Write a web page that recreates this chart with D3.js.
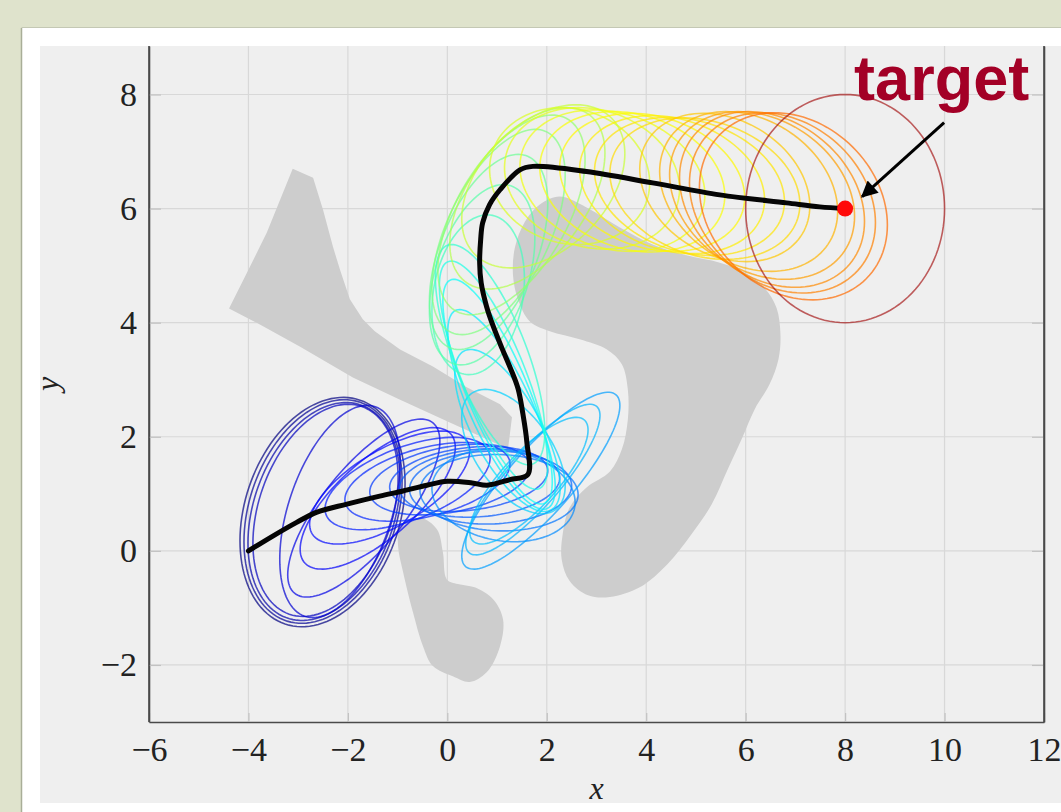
<!DOCTYPE html>
<html>
<head>
<meta charset="utf-8">
<script src="https://cdn.jsdelivr.net/npm/d3@7"></script>
<style>
  html, body { margin: 0; padding: 0; background: #dfe3cc; }
  svg { display: block; }
</style>
</head>
<body>
<svg id="chart" width="1061" height="812"></svg>
<script>
// ---- axes ----
const xDomain = [-6, 12];
const yDomain = [-3, 8.85];
const xTicks = [-6, -4, -2, 0, 2, 4, 6, 8, 10, 12];
const xTickLabels = ["\u22126", "\u22124", "\u22122", "0", "2", "4", "6", "8", "10", "12"];
const yTicks = [-2, 0, 2, 4, 6, 8];
const yTickLabels = ["\u22122", "0", "2", "4", "6", "8"];

// ---- goal ----
const target = [8, 6];

// ---- mean trajectory ----
const meanPath = [
  [-4, 0], [-3.51, 0.26], [-3.03, 0.5], [-2.62, 0.68], [-2.02, 0.82], [-1.36, 0.96],
  [-0.89, 1.05], [-0.41, 1.15], [0, 1.22], [0.5, 1.19], [0.8, 1.15], [1.26, 1.25],
  [1.62, 1.34], [1.6, 1.9], [1.52, 2.4], [1.42, 2.85], [1.27, 3.2], [1.1, 3.55],
  [0.93, 3.92], [0.79, 4.28], [0.68, 4.7], [0.65, 5.05], [0.67, 5.45], [0.71, 5.75],
  [0.85, 6.07], [1.06, 6.33], [1.46, 6.68], [1.72, 6.74], [2.8, 6.65], [4.13, 6.45],
  [5.48, 6.24], [6.82, 6.1], [7.49, 6.03], [8, 6]
];

// ---- obstacles ----
const obstacleWedge = [
  [-3.11, 6.70], [-2.70, 6.54], [-2.50, 5.98], [-2.30, 5.33], [-2.16, 4.93], [-1.96, 4.41],
  [-1.70, 4.06], [-1.46, 3.85], [-0.95, 3.53], [-0.29, 3.23], [0.39, 2.87], [1.06, 2.57],
  [1.30, 2.34], [1.22, 1.78], [1.06, 1.85], [0.05, 2.25], [-0.95, 2.65], [-1.90, 3.04],
  [-2.96, 3.58], [-3.77, 3.97], [-4.39, 4.25], [-3.97, 4.98], [-3.63, 5.58]
];
const obstacleBlob = [
  [2.26, 6.21], [2.80, 6.02], [3.47, 5.67], [4.13, 5.37], [4.81, 5.18], [5.48, 5.05],
  [5.98, 4.88], [6.38, 4.61], [6.62, 4.26], [6.70, 3.79], [6.66, 3.36], [6.48, 2.92],
  [6.18, 2.48], [5.92, 1.96], [5.64, 1.43], [5.32, 0.82], [4.91, 0.29], [4.43, -0.23],
  [3.87, -0.64], [3.27, -0.81], [2.83, -0.78], [2.46, -0.53], [2.30, -0.15], [2.32, 0.29],
  [2.46, 0.76], [2.80, 1.11], [3.27, 1.39], [3.51, 1.78], [3.63, 2.30], [3.63, 2.83],
  [3.51, 3.27], [3.21, 3.53], [2.66, 3.71], [2.06, 3.85], [1.66, 4.02], [1.42, 4.41],
  [1.32, 4.84], [1.36, 5.32], [1.56, 5.77], [1.86, 6.07]
];
const obstacleFoot = [
  [-0.95, 0.43], [-0.55, 0.58], [-0.21, 0.38], [-0.09, -0.02], [-0.01, -0.50], [0.21, -0.58],
  [0.55, -0.64], [0.92, -0.85], [1.12, -1.20], [1.06, -1.67], [0.79, -2.13], [0.45, -2.30],
  [0.11, -2.20], [-0.29, -2.02], [-0.49, -1.67], [-0.69, -1.08], [-0.89, -0.37], [-0.99, 0.08]
];

// ---- uncertainty ellipses along the trajectory: [cx, cy, sx, sy, rho] ----
const ellipses = [
  [-2.51, 0.68, 1.66, 2.01, 0.25],
  [-2.50, 0.69, 1.59, 1.96, 0.27],
  [-2.48, 0.69, 1.53, 1.91, 0.29],
  [-2.45, 0.71, 1.46, 1.86, 0.31],
  [-2.16, 0.69, 1.21, 1.86, 0.45],
  [-1.68, 0.75, 1.53, 1.56, 0.75],
  [-1.40, 0.92, 1.56, 1.24, 0.72],
  [-1.16, 1.11, 1.61, 0.99, 0.65],
  [-0.80, 1.18, 1.66, 0.81, 0.55],
  [-0.40, 1.21, 1.66, 0.69, 0.45],
  [0.05, 1.25, 1.61, 0.62, 0.35],
  [0.43, 1.26, 1.59, 0.57, 0.25],
  [0.65, 1.19, 1.61, 0.60, 0.15],
  [0.87, 1.11, 1.63, 0.64, 0.05],
  [1.04, 1.02, 1.59, 0.67, -0.05],
  [1.13, 0.97, 1.44, 0.81, -0.15],
  [1.88, 1.23, 1.59, 1.55, 0.85],
  [1.72, 1.25, 1.35, 1.32, 0.85],
  [1.64, 1.23, 1.19, 1.11, 0.80],
  [1.33, 1.74, 1.04, 1.09, -0.55],
  [1.21, 2.11, 1.06, 1.42, -0.70],
  [1.09, 2.48, 1.08, 1.75, -0.78],
  [1.01, 2.79, 1.10, 1.97, -0.80],
  [0.93, 3.08, 1.09, 2.00, -0.78],
  [0.86, 3.44, 1.10, 1.93, -0.70],
  [0.62, 4.49, 0.93, 1.40, 0.20],
  [0.70, 4.84, 1.06, 1.58, 0.40],
  [0.83, 5.24, 1.19, 1.71, 0.50],
  [1.03, 5.59, 1.34, 1.80, 0.55],
  [1.29, 5.89, 1.48, 1.75, 0.55],
  [1.61, 6.18, 1.56, 1.59, 0.50],
  [1.93, 6.39, 1.64, 1.43, 0.40],
  [2.46, 6.57, 1.61, 1.20, -0.10],
  [2.91, 6.53, 1.76, 1.24, -0.15],
  [3.32, 6.49, 1.86, 1.24, -0.20],
  [3.72, 6.47, 1.86, 1.23, -0.20],
  [4.12, 6.46, 1.86, 1.21, -0.22],
  [4.52, 6.42, 1.86, 1.21, -0.22],
  [4.87, 6.39, 1.91, 1.21, -0.22],
  [5.18, 6.35, 1.91, 1.24, -0.22],
  [5.58, 6.37, 1.71, 1.30, -0.25],
  [6.06, 6.30, 1.79, 1.40, -0.25],
  [6.33, 6.23, 1.86, 1.47, -0.25],
  [6.53, 6.16, 1.86, 1.54, -0.25],
  [6.74, 6.10, 1.87, 1.58, -0.22],
  [6.96, 6.04, 1.89, 1.64, -0.20],
  [8.00, 6.00, 2.00, 2.00, 0.00]
];
// normalised time of each ellipse (drives the colour)
const ellipseTime = [
  0.00, 0.02, 0.04, 0.06, 0.08,
  0.10, 0.12, 0.13, 0.15, 0.16, 0.18, 0.19, 0.21, 0.22, 0.24, 0.26,
  0.28, 0.30, 0.31,
  0.33, 0.35, 0.36, 0.38, 0.40, 0.42,
  0.44, 0.46, 0.48, 0.50, 0.52, 0.55, 0.57,
  0.59, 0.60, 0.61, 0.62, 0.63, 0.64, 0.65, 0.66,
  0.68, 0.70, 0.72, 0.74, 0.75, 0.77,
  0.97
];

// ---- layout ----
const svg = d3.select("#chart");
const W = 1061, H = 812;
const plot = { left: 149, right: 1044, top: 46, bottom: 722 };

const x = d3.scaleLinear().domain(xDomain).range([plot.left, plot.right]);
const y = d3.scaleLinear().domain(yDomain).range([plot.bottom, plot.top]);

// jet colour map
function jet(t) {
  const c = v => Math.max(0, Math.min(1, v));
  const r = c(1.5 - Math.abs(4 * t - 3));
  const g = c(1.5 - Math.abs(4 * t - 2));
  const b = c(1.5 - Math.abs(4 * t - 1));
  return d3.rgb(r * 255, g * 255, b * 255).formatHex();
}

// frame: slide panel and figure background
svg.append("rect").attr("x", 22).attr("y", 28).attr("width", W - 22).attr("height", H - 28).attr("fill", "#ffffff");
svg.append("line").attr("x1", 21.5).attr("x2", 21.5).attr("y1", 28).attr("y2", H).attr("stroke", "#a9ae98").attr("stroke-width", 1.5);
svg.append("line").attr("x1", 21.5).attr("x2", W).attr("y1", 27.5).attr("y2", 27.5).attr("stroke", "#c4c8b4").attr("stroke-width", 1);
svg.append("rect").attr("x", 40).attr("y", 46).attr("width", W - 40).attr("height", 757).attr("fill", "#efefef");

svg.append("defs").append("clipPath").attr("id", "plotClip")
  .append("rect").attr("x", plot.left).attr("y", plot.top)
  .attr("width", plot.right - plot.left).attr("height", plot.bottom - plot.top);

// grid
const grid = svg.append("g").attr("stroke", "#d8d8d8").attr("stroke-width", 1.2);
grid.selectAll(".gx").data(xTicks.slice(1, -1)).join("line")
  .attr("x1", d => x(d)).attr("x2", d => x(d)).attr("y1", plot.top).attr("y2", plot.bottom);
grid.selectAll(".gy").data(yTicks).join("line")
  .attr("x1", plot.left).attr("x2", plot.right).attr("y1", d => y(d)).attr("y2", d => y(d));

const layer = svg.append("g").attr("clip-path", "url(#plotClip)");

// obstacles
const polyLine = d3.line().x(d => x(d[0])).y(d => y(d[1]));
layer.append("path").attr("d", polyLine.curve(d3.curveLinearClosed)(obstacleWedge)).attr("fill", "#cdcdcd");
layer.append("path").attr("d", polyLine.curve(d3.curveCatmullRomClosed.alpha(0.5))(obstacleBlob)).attr("fill", "#cdcdcd");
layer.append("path").attr("d", polyLine.curve(d3.curveCatmullRomClosed.alpha(0.5))(obstacleFoot)).attr("fill", "#cdcdcd");

// ellipses
const N = 120;
function ellipsePoints(e) {
  const [cx, cy, sx, sy, rho] = e;
  const k = Math.sqrt(1 - rho * rho);
  return d3.range(N).map(i => {
    const p = 2 * Math.PI * i / N;
    return [cx + sx * Math.cos(p), cy + sy * (rho * Math.cos(p) + k * Math.sin(p))];
  });
}
const closedLine = d3.line().x(d => x(d[0])).y(d => y(d[1])).curve(d3.curveLinearClosed);
layer.append("g").selectAll("path").data(ellipses).join("path")
  .attr("d", d => closedLine(ellipsePoints(d)))
  .attr("fill", "none")
  .attr("stroke", (d, i) => jet(ellipseTime[i]))
  .attr("stroke-opacity", (d, i) => i === ellipses.length - 1 ? 0.62 : 0.7)
  .attr("stroke-width", 1.6);

// mean path
layer.append("path")
  .attr("d", d3.line().x(d => x(d[0])).y(d => y(d[1])).curve(d3.curveCatmullRom.alpha(0.5))(meanPath))
  .attr("fill", "none").attr("stroke", "#050505").attr("stroke-width", 5)
  .attr("stroke-linejoin", "round").attr("stroke-linecap", "round");

// target point
layer.append("circle").attr("cx", x(target[0])).attr("cy", y(target[1])).attr("r", 8).attr("fill", "#ff0a0a");

// axes
const tickFont = "'Liberation Serif', 'DejaVu Serif', serif";
const xAxis = d3.axisBottom(x).tickValues(xTicks).tickFormat((d, i) => xTickLabels[i])
  .tickSizeInner(-9).tickSizeOuter(0).tickPadding(15);
const yAxis = d3.axisLeft(y).tickValues(yTicks).tickFormat((d, i) => yTickLabels[i])
  .tickSizeInner(-12).tickSizeOuter(0).tickPadding(12);
const yAxisR = d3.axisRight(y).tickValues(yTicks).tickFormat("")
  .tickSizeInner(-12).tickSizeOuter(0);

function styleAxis(g) {
  g.select(".domain").attr("stroke", "#4a4a4a").attr("stroke-width", 1.6);
  g.selectAll(".tick line").attr("stroke", "#c2c2c2").attr("stroke-width", 1.2);
  g.selectAll(".tick text").attr("fill", "#222").style("font-family", tickFont).style("font-size", "34px");
}
svg.append("g").attr("transform", `translate(0,${plot.bottom})`).call(xAxis).call(styleAxis);
svg.append("g").attr("transform", `translate(${plot.left},0)`).call(yAxis).call(styleAxis);
svg.append("g").attr("transform", `translate(${plot.right},0)`).call(yAxisR).call(styleAxis);
// frame lines on the left and right edges of the axes box
[plot.left, plot.right].forEach(px => {
  svg.append("line").attr("x1", px).attr("x2", px).attr("y1", plot.top).attr("y2", plot.bottom)
    .attr("stroke", "#4a4a4a").attr("stroke-width", 1.6);
});

// axis titles
svg.append("text").attr("x", (plot.left + plot.right) / 2).attr("y", 799)
  .attr("text-anchor", "middle").style("font-family", tickFont).style("font-style", "italic")
  .style("font-size", "32px").attr("fill", "#222").text("x");
svg.append("text").attr("transform", `translate(58,${(plot.top + plot.bottom) / 2}) rotate(-90)`)
  .attr("text-anchor", "middle").style("font-family", tickFont).style("font-style", "italic")
  .style("font-size", "32px").attr("fill", "#222").text("y");

// annotation
const tx = x(target[0]), ty = y(target[1]);
svg.append("defs").append("marker").attr("id", "arrowHead")
  .attr("viewBox", "0 0 10 10").attr("refX", 9).attr("refY", 5)
  .attr("markerWidth", 6).attr("markerHeight", 5.5).attr("markerUnits", "strokeWidth")
  .attr("orient", "auto")
  .append("path").attr("d", "M0,0 L10,5 L0,10 Z").attr("fill", "#000");
svg.append("line")
  .attr("x1", tx + 99).attr("y1", ty - 86).attr("x2", tx + 17).attr("y2", ty - 12)
  .attr("stroke", "#000").attr("stroke-width", 3).attr("marker-end", "url(#arrowHead)");
svg.append("text").attr("x", tx + 9).attr("y", ty - 109)
  .style("font-family", "'Liberation Sans', Arial, sans-serif").style("font-weight", "bold")
  .style("font-size", "63px").attr("fill", "#a30026").text("target");
</script>
</body>
</html>
